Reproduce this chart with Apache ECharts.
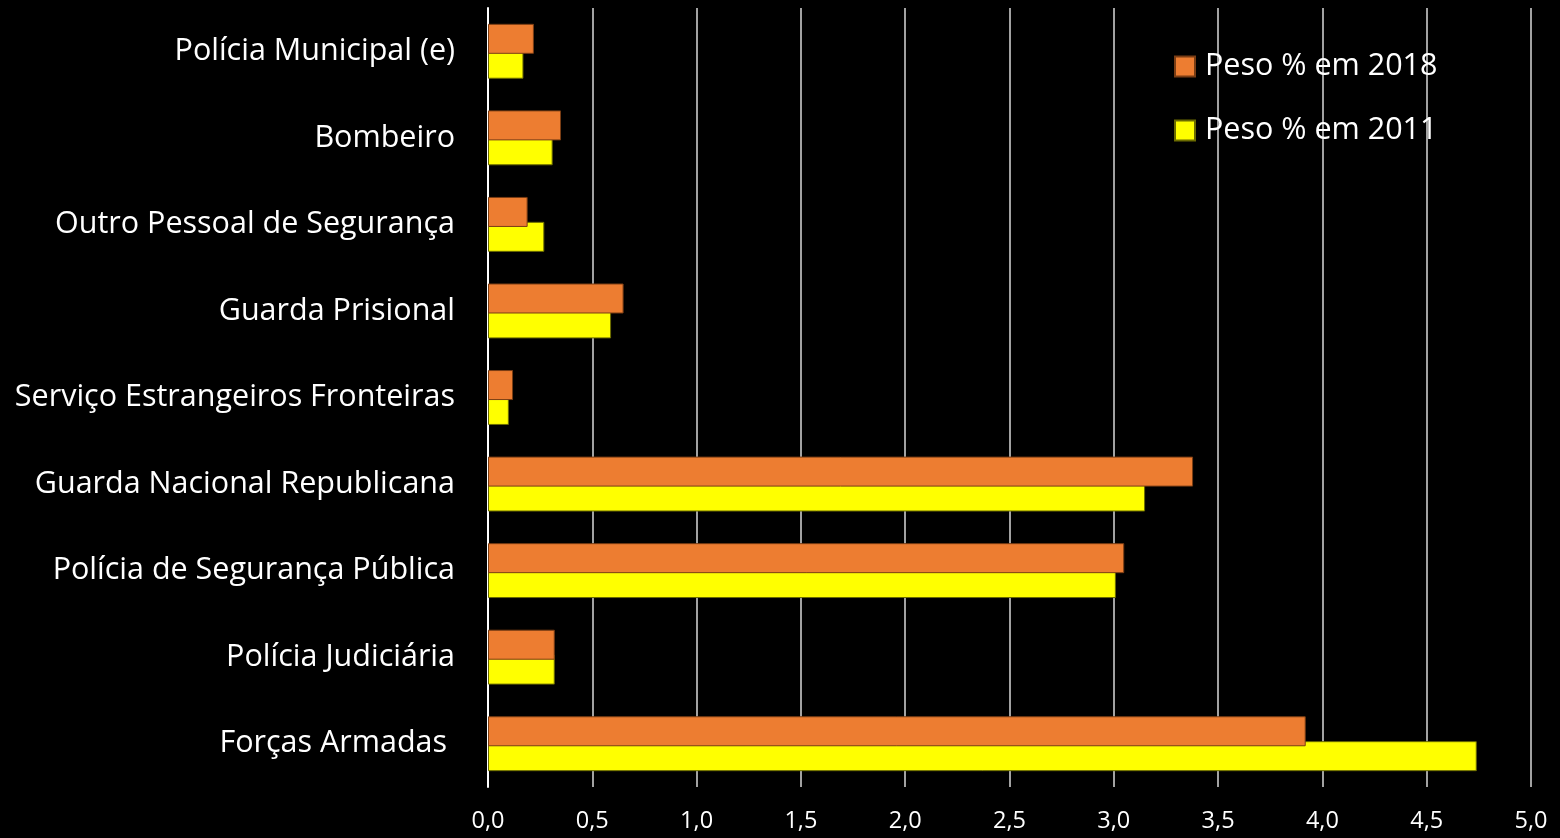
<!DOCTYPE html>
<html><head><meta charset="utf-8">
<script src="https://cdn.jsdelivr.net/npm/echarts@6/dist/echarts.min.js"></script>
<style>html,body{margin:0;padding:0;background:#000;}#c{width:1560px;height:838px;}</style>
</head><body><div id="c"></div>
<script>
const categories = ["Polícia Municipal (e)","Bombeiro","Outro Pessoal de Segurança","Guarda Prisional","Serviço Estrangeiros Fronteiras","Guarda Nacional Republicana","Polícia de Segurança Pública","Polícia Judiciária","Forças Armadas "];
const peso2018 = [0.22,0.35,0.19,0.65,0.12,3.38,3.05,0.32,3.92];
const peso2011 = [0.17,0.31,0.27,0.59,0.10,3.15,3.01,0.32,4.74];
const seriesNames = ["Peso % em 2018","Peso % em 2011"];
const FONT = "Open Sans";
const chart = echarts.init(document.getElementById('c'));
chart.setOption({
  backgroundColor:'#000',
  animation:false,
  grid:{left:488,right:29,top:8,bottom:51,containLabel:false},
  legend:{orient:'vertical',left:1169,top:46,itemWidth:20,itemHeight:20,itemGap:33,
    icon:'rect',
    textStyle:{color:'#fff',fontFamily:FONT,fontSize:30.5,padding:[0,0,0,5]},
    data:seriesNames},
  xAxis:{type:'value',min:0,max:5,interval:0.5,
    axisLine:{show:false},axisTick:{show:false},
    axisLabel:{color:'#fff',fontFamily:FONT,fontSize:23.5,margin:22,
      formatter:v=>v.toFixed(1).replace('.',',')},
    splitLine:{lineStyle:{color:'#d9d9d9',width:1.5}}},
  yAxis:{type:'category',data:categories,inverse:true,
    axisLine:{show:true,lineStyle:{color:'#fff',width:2}},
    axisTick:{show:false},
    axisLabel:{color:'#fff',fontFamily:FONT,fontSize:30.5,margin:33,padding:[7,0,0,0]}},
  series:[
    {name:seriesNames[0],type:'bar',data:peso2018,barWidth:30,barGap:'-17%',z:3,
      itemStyle:{color:'#ED7D31',borderColor:'#7a3d14',borderWidth:1}},
    {name:seriesNames[1],type:'bar',data:peso2011,barWidth:30,barGap:'-17%',z:2,
      itemStyle:{color:'#FFFF00',borderColor:'#6b6b00',borderWidth:1}}
  ]
});
</script></body></html>
